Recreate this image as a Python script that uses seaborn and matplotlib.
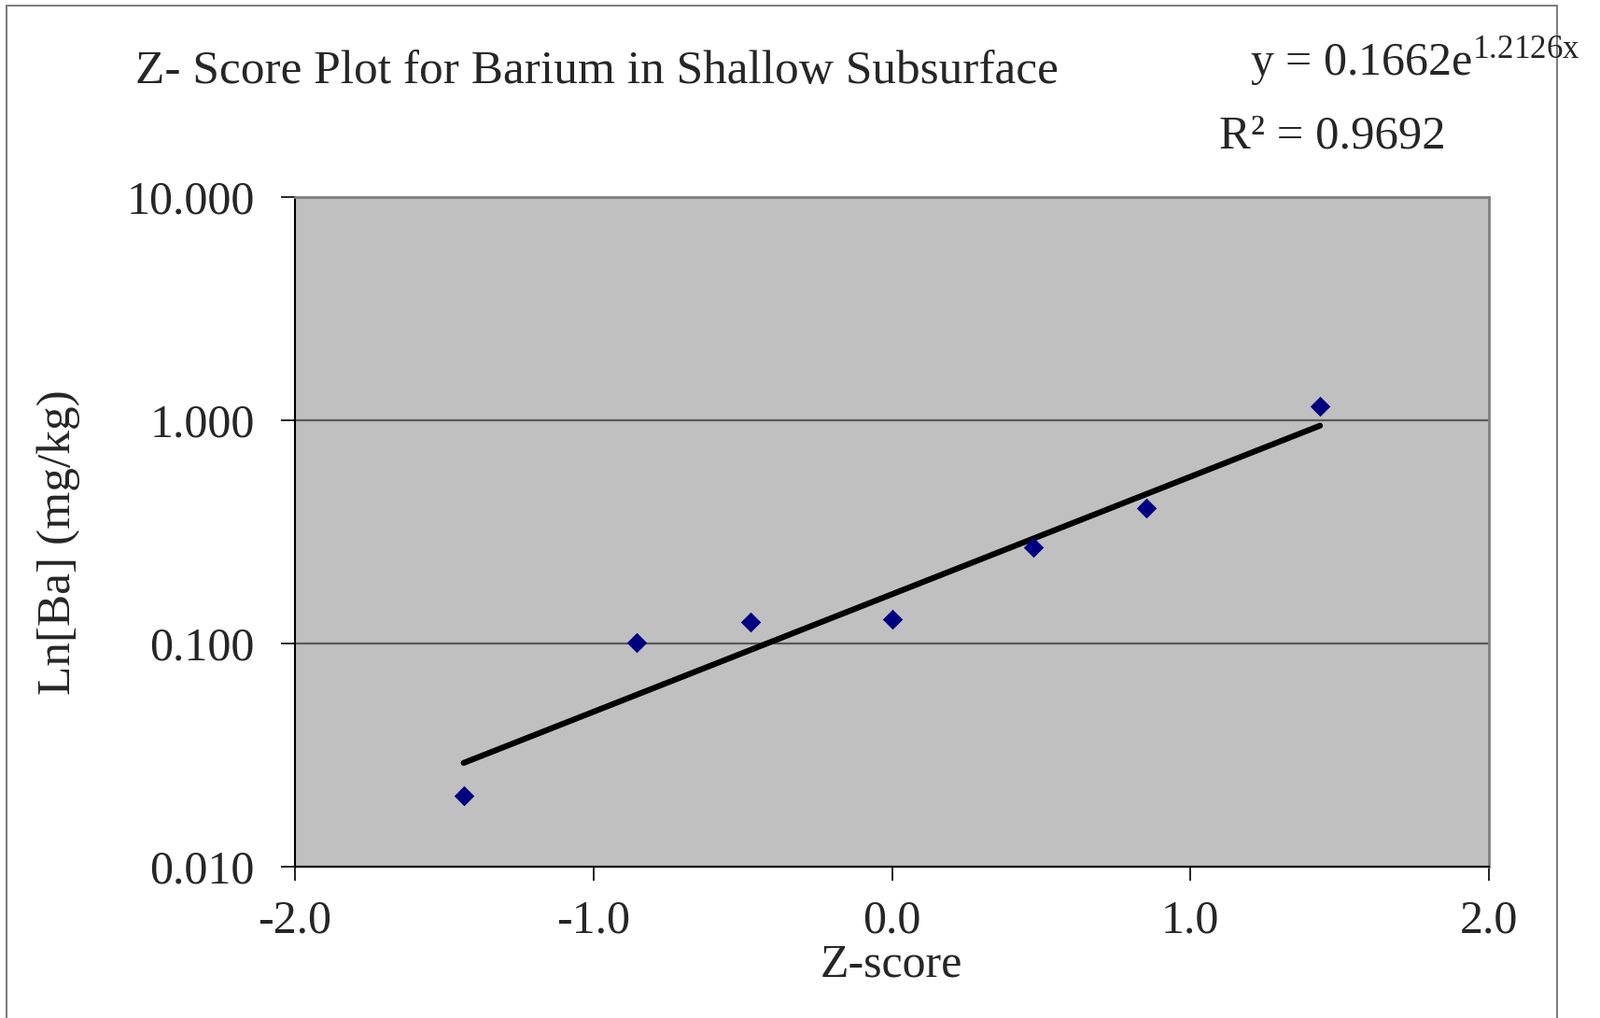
import numpy as np
import pandas as pd
import matplotlib
matplotlib.use("Agg")
import matplotlib.pyplot as plt
from matplotlib.patches import Rectangle
from matplotlib.ticker import FixedLocator, FixedFormatter
import seaborn as sns

# ---- data ----
z_scores = [-1.435, -0.855, -0.474, 0.0, 0.473, 0.852, 1.434]
ba_values = [0.0208, 0.1013, 0.1248, 0.1288, 0.270, 0.403, 1.152]
trend_a = 0.1662
trend_b = 1.2126
y_ticks = [0.01, 0.1, 1.0, 10.0]
y_tick_labels = ["0.010", "0.100", "1.000", "10.000"]
x_ticks = [-2.0, -1.0, 0.0, 1.0, 2.0]
x_tick_labels = ["-2.0", "-1.0", "0.0", "1.0", "2.0"]
title_text = "Z- Score Plot for Barium in Shallow Subsurface"
equation_text = "y = 0.1662e$^{\\mathregular{1.2126x}}$"
r2_text = "R² = 0.9692"
x_label = "Z-score"
y_label = "Ln[Ba] (mg/kg)"

df = pd.DataFrame({"z": z_scores, "ba": ba_values})
trend_x = np.linspace(min(z_scores), max(z_scores), 50)
trend_df = pd.DataFrame({"z": trend_x, "ba": trend_a * np.exp(trend_b * trend_x)})

sns.set_theme(style="white")
plt.rcParams["font.family"] = ["Liberation Serif", "DejaVu Serif"]
plt.rcParams["mathtext.fontset"] = "custom"
plt.rcParams["mathtext.rm"] = "Liberation Serif"

W, H = 1714, 1090
fig = plt.figure(figsize=(W / 100, H / 100), dpi=100)
fig.patch.set_facecolor("white")

# outer chart frame
fig.patches.append(Rectangle((7 / W, -0.01), (1668 - 7) / W, (H - 6) / H + 0.01,
                             transform=fig.transFigure, fill=False,
                             edgecolor="#808080", linewidth=1.5))

left, right, top, bottom = 316, 1595, 211, 928
ax = fig.add_axes([left / W, 1 - bottom / H, (right - left) / W, (bottom - top) / H])
ax.set_facecolor("#C0C0C0")

ax.set_yscale("log")
ax.set_xlim(-2.0, 2.0)
ax.set_ylim(0.01, 10.0)

for yv in y_ticks:
    ax.axhline(yv, color="#5a5a5a", linewidth=1.6, zorder=1)

sns.lineplot(data=trend_df, x="z", y="ba", ax=ax, color="black", linewidth=4.5,
             solid_capstyle="round", zorder=3)
sns.scatterplot(data=df, x="z", y="ba", ax=ax, marker="D", s=120, color="#000080",
                edgecolor="#000080", linewidth=0, zorder=4)

ax.yaxis.set_major_locator(FixedLocator(y_ticks))
ax.yaxis.set_major_formatter(FixedFormatter(y_tick_labels))
ax.yaxis.set_minor_locator(FixedLocator([]))
ax.xaxis.set_major_locator(FixedLocator(x_ticks))
ax.xaxis.set_major_formatter(FixedFormatter(x_tick_labels))

ax.tick_params(axis="both", which="major", direction="out", length=11, width=1.2,
               color="black", labelsize=36, bottom=True, left=True)
ax.tick_params(axis="y", pad=20)
ax.tick_params(axis="x", pad=14)

for side in ["left", "bottom"]:
    ax.spines[side].set_color("black")
    ax.spines[side].set_linewidth(1.5)
for side in ["top", "right"]:
    ax.spines[side].set_color("#808080")
    ax.spines[side].set_linewidth(2)

ax.set_xlabel("")
ax.set_ylabel("")

fig.text(955 / W, 1 - 1033 / H, x_label, ha="center", va="center", fontsize=36)
fig.text(63 / W, 1 - 581 / H, y_label, ha="center", va="center", rotation=90, fontsize=37)
fig.text(145 / W, 1 - 77 / H, title_text, ha="left", va="center", fontsize=37)
fig.text(1339 / W, 1 - 66 / H, equation_text, ha="left", va="center", fontsize=36)
fig.text(1306 / W, 1 - 146 / H, r2_text, ha="left", va="center", fontsize=36.5)

fig.savefig("out.png", dpi=100, facecolor="white")
